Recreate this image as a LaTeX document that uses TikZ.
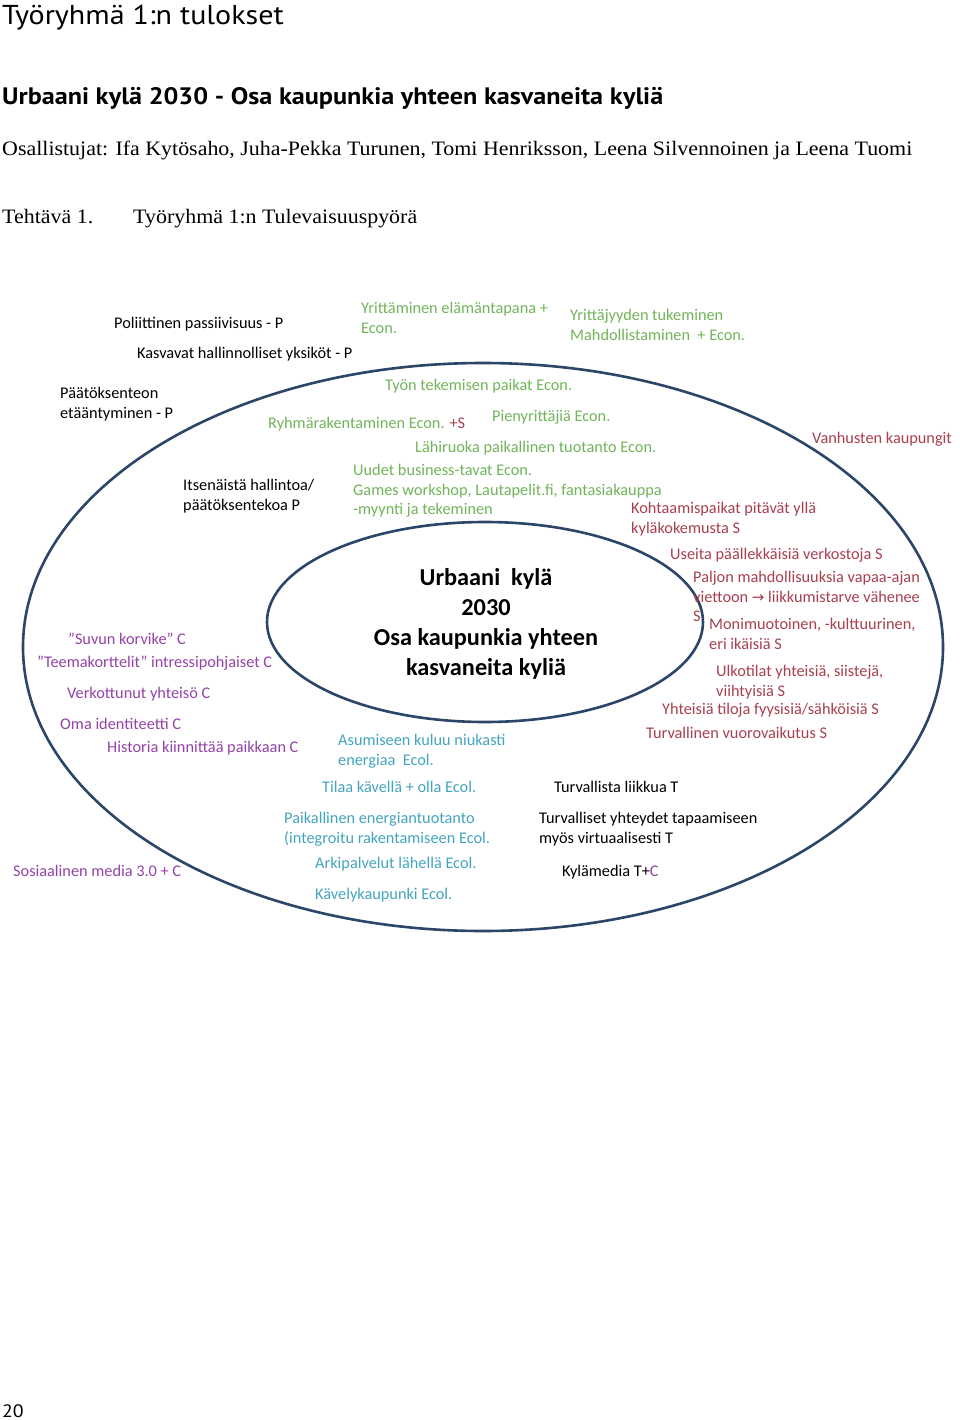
\documentclass[tikz,border=0pt]{standalone}
\usepackage{fontspec}
\usetikzlibrary{shapes.geometric}
\setmainfont[FakeStretch=1.07]{Liberation Serif}
\newfontfamily\calfont{Carlito}
\newfontfamily\hdfont[FakeStretch=1.1]{PT Sans}
\newfontfamily\dvfont{DejaVu Sans}
\definecolor{econ}{HTML}{72B45A}
\definecolor{soc}{HTML}{A8404F}
\definecolor{comm}{HTML}{9443A8}
\definecolor{ecol}{HTML}{45A5BE}
\definecolor{ring}{HTML}{2B4668}
\begin{document}
\begin{tikzpicture}[x=1pt,y=-1pt,
  lbl/.style={anchor=base west, inner sep=0pt, align=left, font=\calfont\fontsize{16.3}{19.5}\selectfont},
  pol/.style={lbl, text=black},
  ec/.style={lbl, text=econ},
  so/.style={lbl, text=soc},
  co/.style={lbl, text=comm},
  el/.style={lbl, text=ecol},
  ringline/.style={draw=ring, line width=2.6pt, ellipse, inner sep=0pt},
  hd/.style={anchor=base west, inner sep=0pt}]
\useasboundingbox[fill=white] (0,0) rectangle (960,1420);
% header
\node[hd, font=\hdfont\fontsize{27.3}{30}\selectfont] (title) at (2,25) {Työryhmä 1:n tulokset};
\node[hd, font=\hdfont\bfseries\fontsize{23.8}{26}\selectfont] (sub) at (2,105) {Urbaani kylä 2030 - Osa kaupunkia yhteen kasvaneita kyliä};
\node[hd, font=\fontsize{20.5}{24}\selectfont] (part) at (2,156) {Osallistujat: Ifa Kytösaho, Juha-Pekka Turunen, Tomi Henriksson, Leena Silvennoinen ja Leena Tuomi};
\node[hd, font=\fontsize{20.5}{24}\selectfont] (task) at (2,224) {Tehtävä 1.};
\node[hd, font=\fontsize{20.5}{24}\selectfont] (tasktitle) at (133,224) {Työryhmä 1:n Tulevaisuuspyörä};
\node[hd, font=\hdfont\fontsize{18}{20}\selectfont] (page) at (2,1417) {20};
% ellipses
\node[ringline, minimum width=920pt, minimum height=568pt] (outer) at (483,647) {};
\node[ringline, minimum width=436pt, minimum height=200pt] (inner) at (485,622) {};
\node[align=center, inner sep=0pt, font=\calfont\bfseries\fontsize{24.3}{30}\selectfont] (center) at (486,624) {Urbaani\ \ kylä\\2030\\Osa kaupunkia yhteen\\kasvaneita kyliä};
% politics
\node[pol] (p1) at (114,328.5) {Poliittinen passiivisuus - P};
\node[pol] (p2) at (137,358.5) {Kasvavat hallinnolliset yksiköt - P};
\node[pol] (p3) at (60,418) {Päätöksenteon\\etääntyminen - P};
\node[pol] (p4) at (183,510) {Itsenäistä hallintoa/\\päätöksentekoa P};
% economy
\node[ec] (e1) at (361,333) {Yrittäminen elämäntapana +\\Econ.};
\node[ec] (e2) at (570,340) {Yrittäjyyden tukeminen\\Mahdollistaminen\ \ + Econ.};
\node[ec] (e3) at (385,390.5) {Työn tekemisen paikat Econ.};
\node[ec] (e4) at (268,428.5) {Ryhmärakentaminen Econ. \textcolor{soc}{+S}};
\node[ec] (e5) at (492,421.5) {Pienyrittäjiä Econ.};
\node[ec] (e6) at (415,452.5) {Lähiruoka paikallinen tuotanto Econ.};
\node[ec] (e7) at (353,514.5) {Uudet business-tavat Econ.\\Games workshop, Lautapelit.fi, fantasiakauppa\\-myynti ja tekeminen};
% social
\node[so] (s1) at (812,443.5) {Vanhusten kaupungit};
\node[so] (s2) at (631,533) {Kohtaamispaikat pitävät yllä\\kyläkokemusta S};
\node[so] (s3) at (670,559.5) {Useita päällekkäisiä verkostoja S};
\node[so] (s4) at (693,621.5) {Paljon mahdollisuuksia vapaa-ajan\\viettoon {\dvfont\fontsize{15}{14}\selectfont →} liikkumistarve vähenee\\S};
\node[so] (s5) at (709,649) {Monimuotoinen, -kulttuurinen,\\eri ikäisiä S};
\node[so] (s6) at (716,696) {Ulkotilat yhteisiä, siistejä,\\viihtyisiä S};
\node[so] (s7) at (662,714.5) {Yhteisiä tiloja fyysisiä/sähköisiä S};
\node[so] (s8) at (646,738.5) {Turvallinen vuorovaikutus S};
% community
\node[co] (c1) at (68,644.5) {”Suvun korvike” C};
\node[co] (c2) at (37,667.5) {”Teemakorttelit” intressipohjaiset C};
\node[co] (c3) at (67,698.5) {Verkottunut yhteisö C};
\node[co] (c4) at (60,729.5) {Oma identiteetti C};
\node[co] (c5) at (107,752.5) {Historia kiinnittää paikkaan C};
\node[co] (c6) at (13,876.5) {Sosiaalinen media 3.0 + C};
% ecology
\node[el] (l1) at (338,765) {Asumiseen kuluu niukasti\\energiaa\ \ Ecol.};
\node[el] (l2) at (322,792.5) {Tilaa kävellä + olla Ecol.};
\node[el] (l3) at (284,843) {Paikallinen energiantuotanto\\(integroitu rakentamiseen Ecol.};
\node[el] (l4) at (315,868.5) {Arkipalvelut lähellä Ecol.};
\node[el] (l5) at (315,899.5) {Kävelykaupunki Ecol.};
% technology
\node[pol] (t1) at (554,792.5) {Turvallista liikkua T};
\node[pol] (t2) at (539,843) {Turvalliset yhteydet tapaamiseen\\myös virtuaalisesti T};
\node[pol] (t3) at (562,876.5) {Kylämedia T+\textcolor{comm}{C}};
\end{tikzpicture}
\end{document}
